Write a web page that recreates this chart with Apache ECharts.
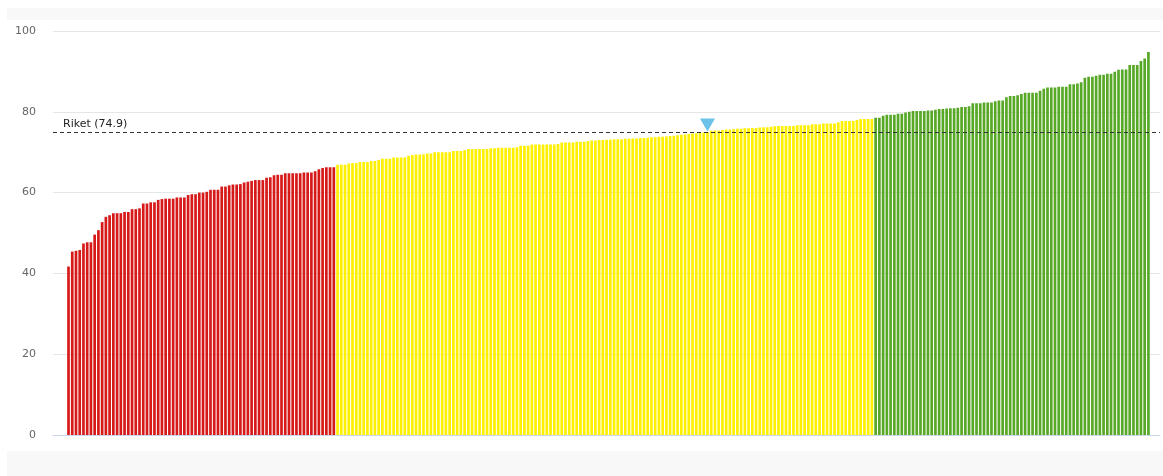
<!DOCTYPE html>
<html lang="sv">
<head>
	<meta charset="UTF-8">
	<title>Riket (74.9)</title>
	<script src="https://cdn.jsdelivr.net/npm/echarts@6/dist/echarts.min.js"></script>
	<style>
		html, body { margin: 0; padding: 0; background: #fff; }
		#main { width: 1163px; height: 476px; }
	</style>
</head>
<body>
	<div id="main"></div>
	<script>
		// municipalities sorted ascending, split in three groups
		var redValues = [
			41.7, 45.4, 45.6, 45.8, 47.4, 47.7, 47.7, 49.6, 50.7, 52.7,
			54.0, 54.4, 54.9, 54.9, 54.9, 55.2, 55.2, 55.9, 55.9, 56.1,
			57.3, 57.3, 57.6, 57.6, 58.2, 58.4, 58.5, 58.5, 58.5, 58.8,
			58.8, 58.8, 59.4, 59.6, 59.6, 60.0, 60.0, 60.2, 60.7, 60.7,
			60.7, 61.5, 61.5, 61.8, 62.0, 62.0, 62.1, 62.5, 62.7, 62.9,
			63.1, 63.1, 63.1, 63.7, 63.8, 64.3, 64.4, 64.4, 64.8, 64.8,
			64.8, 64.8, 64.8, 65.0, 65.0, 65.0, 65.3, 65.8, 66.1, 66.3,
			66.3, 66.3
		]
		var yellowValues = [
			66.9, 66.9, 66.9, 67.2, 67.3, 67.3, 67.6, 67.6, 67.6, 67.8,
			67.8, 68.1, 68.4, 68.4, 68.4, 68.7, 68.7, 68.7, 68.7, 69.1,
			69.3, 69.4, 69.4, 69.5, 69.7, 69.7, 70.0, 70.0, 70.0, 70.0,
			70.0, 70.3, 70.3, 70.3, 70.5, 70.8, 70.8, 70.8, 70.8, 70.8,
			70.8, 71.0, 71.0, 71.1, 71.1, 71.1, 71.1, 71.1, 71.2, 71.6,
			71.6, 71.6, 71.9, 71.9, 71.9, 71.9, 71.9, 71.9, 71.9, 72.0,
			72.4, 72.4, 72.4, 72.4, 72.6, 72.6, 72.6, 72.8, 72.9, 72.9,
			73.0, 73.0, 73.1, 73.1, 73.2, 73.2, 73.2, 73.3, 73.3, 73.4,
			73.4, 73.5, 73.5, 73.6, 73.7, 73.7, 73.8, 73.8, 73.9, 74.0,
			74.1, 74.2, 74.3, 74.4, 74.5, 74.6, 74.7, 74.8, 74.9, 75.0,
			75.3, 75.4, 75.4, 75.5, 75.6, 75.6, 75.7, 75.8, 75.8, 75.9,
			75.9, 76.0, 76.0, 76.1, 76.2, 76.2, 76.3, 76.4, 76.5, 76.5,
			76.5, 76.5, 76.5, 76.7, 76.7, 76.7, 76.7, 76.9, 76.9, 76.9,
			77.1, 77.1, 77.1, 77.1, 77.4, 77.7, 77.7, 77.7, 77.7, 78.0,
			78.2, 78.2, 78.2, 78.2
		]
		var greenValues = [
			78.5, 78.5, 79.0, 79.3, 79.3, 79.3, 79.5, 79.5, 79.8, 80.0,
			80.2, 80.2, 80.2, 80.2, 80.3, 80.3, 80.5, 80.7, 80.7, 80.8,
			80.9, 80.9, 81.0, 81.2, 81.2, 81.4, 82.1, 82.1, 82.1, 82.3,
			82.3, 82.3, 82.6, 82.8, 82.8, 83.6, 83.9, 83.9, 84.1, 84.4,
			84.7, 84.7, 84.7, 84.7, 85.2, 85.7, 86.0, 86.0, 86.0, 86.2,
			86.2, 86.2, 86.8, 86.8, 87.0, 87.3, 88.4, 88.7, 88.7, 88.9,
			89.2, 89.2, 89.4, 89.4, 89.9, 90.4, 90.5, 90.5, 91.6, 91.6,
			91.6, 92.6, 93.2, 94.8
		]
		var riket = 74.9
		var highlightIndex = 171   // selected municipality
		var yTicks = [0, 20, 40, 60, 80, 100]

		var groups = [
			{ values: redValues, color: '#d61a1a' },
			{ values: yellowValues, color: '#fff000' },
			{ values: greenValues, color: '#58a828' }
		]

		var barData = []
		groups.forEach(function (g) {
			g.values.forEach(function (v) {
				barData.push({
					value: [barData.length, v],
					itemStyle: { color: g.color }
				})
			})
		})
		var allValues = redValues.concat(yellowValues, greenValues)

		const myChart = echarts.init(document.getElementById('main'))
		var option = {
			animation: false,
			backgroundColor: '#fff',
			textStyle: { fontFamily: 'DejaVu Sans' },
			graphic: [
				{ type: 'rect', shape: { x: 7, y: 8, width: 1156, height: 12 }, style: { fill: '#f8f8f8' }, silent: true },
				{ type: 'rect', shape: { x: 7, y: 451, width: 1156, height: 25 }, style: { fill: '#f8f8f8' }, silent: true }
			],
			grid: { left: 53, right: 3, top: 31, bottom: 41, containLabel: false },
			xAxis: {
				type: 'value',
				min: -4.15,
				max: allValues.length + 2.1,
				axisLine: { show: true, onZero: false, lineStyle: { color: '#ccd6eb', width: 1 } },
				axisTick: { show: false },
				axisLabel: { show: false },
				splitLine: { show: false }
			},
			yAxis: {
				type: 'value',
				min: yTicks[0],
				max: yTicks[yTicks.length - 1],
				interval: 20,
				axisLine: { show: false },
				axisTick: { show: false },
				axisLabel: { color: '#666', fontSize: 11, margin: 17, fontFamily: 'DejaVu Sans' },
				splitLine: { lineStyle: { color: '#e6e6e6', width: 1 } }
			},
			series: [
				{
					type: 'bar',
					barWidth: 2.7,
					data: barData,
					markLine: {
						silent: true,
						symbol: ['none', 'none'],
						lineStyle: { color: '#333', type: [4, 3], width: 1 },
						label: {
							position: 'insideStartTop',
							formatter: 'Riket (' + riket + ')',
							color: '#222',
							fontSize: 11,
							fontFamily: 'DejaVu Sans',
							distance: [10, 3]
						},
						data: [{ yAxis: riket }]
					},
					markPoint: {
						silent: true,
						symbol: 'triangle',
						symbolRotate: 180,
						symbolSize: [15, 13],
						symbolOffset: [0, -7],
						itemStyle: { color: '#6cc2e8' },
						label: { show: false },
						data: [{ coord: [highlightIndex, allValues[highlightIndex]] }]
					}
				}
			]
		}
		myChart.setOption(option)
	</script>
</body>
</html>
